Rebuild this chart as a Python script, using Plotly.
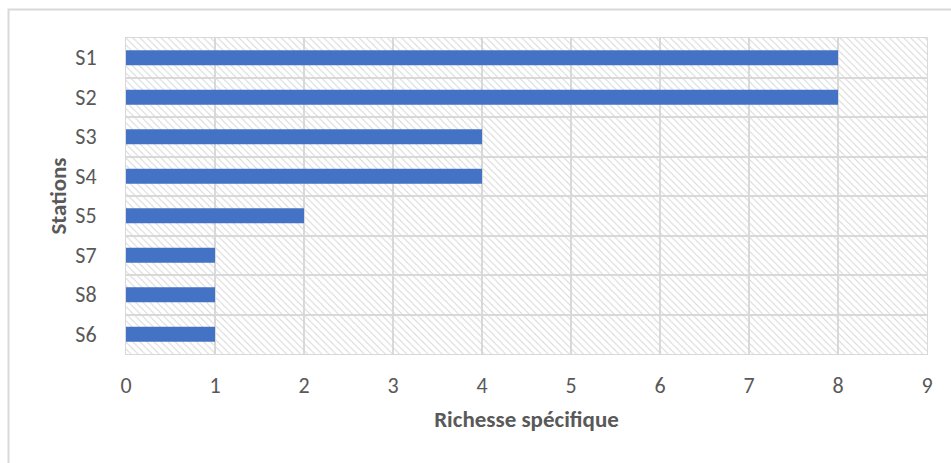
import plotly.graph_objects as go

# Species richness per sampling station
stations = ["S1", "S2", "S3", "S4", "S5", "S7", "S8", "S6"]
richness = [8, 8, 4, 4, 2, 1, 1, 1]
x_ticks = [0, 1, 2, 3, 4, 5, 6, 7, 8, 9]
x_max = 9

font_family = "Carlito, Calibri, Lato, 'Open Sans', sans-serif"
grey_text = "#595959"
grid_grey = "#d9d9d9"

plot_w = 951 - 126 - 24
plot_h = 463 - 38 - 109

fig = go.Figure()

# Hatched plot-area background: one full-width band per category
fig.add_trace(go.Bar(
    y=stations,
    x=[x_max] * len(stations),
    orientation="h",
    width=1,
    marker=dict(
        color="rgba(0,0,0,0)",
        line=dict(width=0),
        pattern=dict(shape="\\", fgcolor="#d6d6d6", bgcolor="rgba(0,0,0,0)",
                     size=5, solidity=0.2, fillmode="replace"),
    ),
    hoverinfo="skip",
    showlegend=False,
))

# Richness bars
fig.add_trace(go.Bar(
    y=stations,
    x=richness,
    orientation="h",
    width=0.38,
    marker=dict(color="#4472c4", line=dict(width=0)),
    showlegend=False,
))

fig.update_layout(
    width=951,
    height=463,
    barmode="overlay",
    paper_bgcolor="white",
    plot_bgcolor="white",
    margin=dict(l=126, r=24, t=38, b=109),
    font=dict(family=font_family, size=22, color=grey_text),
    xaxis=dict(
        range=[0, x_max],
        tickvals=x_ticks,
        showgrid=True,
        gridcolor=grid_grey,
        gridwidth=1.5,
        zeroline=False,
        showline=True,
        linecolor=grid_grey,
        mirror=True,
        ticks="",
        ticklabelstandoff=12,
        tickfont=dict(size=22, color=grey_text),
        title=dict(text="<b>Richesse spécifique</b>",
                   font=dict(size=23, color=grey_text), standoff=12),
    ),
    yaxis=dict(
        categoryorder="array",
        categoryarray=stations,
        autorange="reversed",
        tickson="boundaries",
        showgrid=True,
        gridcolor=grid_grey,
        gridwidth=1.5,
        showline=True,
        linecolor=grid_grey,
        mirror=True,
        ticks="",
        ticklabelstandoff=24,
        tickfont=dict(size=22, color=grey_text),
        title=dict(text="<b>Stations</b>",
                   font=dict(size=23, color=grey_text), standoff=2),
    ),
    shapes=[
        # outer chart frame
        dict(type="rect", xref="paper", yref="paper",
             x0=-117.5 / plot_w, x1=1.2, y0=-1.0, y1=1 + 28.5 / plot_h,
             line=dict(color="#d9d9d9", width=2), fillcolor="rgba(0,0,0,0)",
             layer="below"),
    ],
)

fig.write_html("out.html")
